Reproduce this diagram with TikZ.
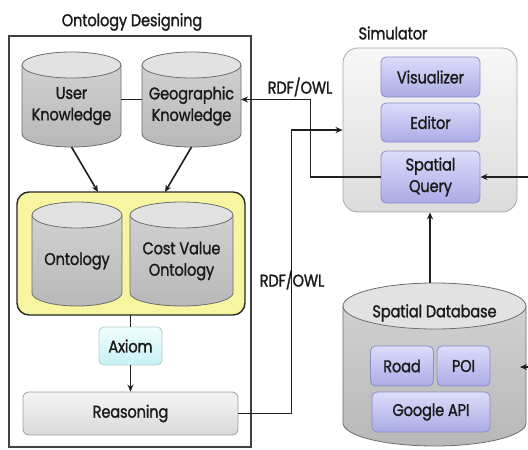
\documentclass[tikz,border=0pt]{standalone}
\usepackage{fontspec}
\setmainfont{Poppins}[FakeStretch=0.86, FakeBold=1.3, LetterSpace=-1]
\usetikzlibrary{arrows.meta}

% cylinder drawn behind a named node: x1 y1 x2 y2 ry (y grows downward)
\newcommand\drawcylinder[5]{%
  \pgfmathsetmacro\cylrx{(#3-#1)/2}%
  \pgfmathsetmacro\cylcx{(#1+#3)/2}%
  \shade[top color=cylA, bottom color=cylB]
    (#1,#2+#5) -- (#1,#4-#5)
    arc[start angle=180, end angle=360, x radius=\cylrx pt, y radius=#5pt]
    -- (#3,#2+#5)
    arc[start angle=0, end angle=180, x radius=\cylrx pt, y radius=#5pt] -- cycle;
  \draw[cylline]
    (#1,#2+#5) -- (#1,#4-#5)
    arc[start angle=180, end angle=360, x radius=\cylrx pt, y radius=#5pt]
    -- (#3,#2+#5);
  \draw[cylline, fill=cylTop] (\cylcx,#2+#5) ellipse[x radius=\cylrx pt, y radius=#5pt];
}

\definecolor{cylA}{HTML}{D4D4D4}
\definecolor{cylB}{HTML}{B8B8B8}
\definecolor{cylTop}{HTML}{E2E2E2}
\definecolor{cylEdge}{HTML}{6E6E6E}
\definecolor{ylw}{HTML}{F8F5A0}
\definecolor{purA}{HTML}{DCDCFA}
\definecolor{purB}{HTML}{ABABE6}
\definecolor{purEdge}{HTML}{8C8CC8}
\definecolor{cyA}{HTML}{F0FEFE}
\definecolor{cyB}{HTML}{C8F0F4}
\definecolor{txt}{HTML}{1A1A1A}

\begin{document}
\begin{tikzpicture}[x=1pt, y=-1pt,
  tfont/.style={font=\fontsize{17}{21.5}\selectfont, text=txt},
  lbl/.style={tfont, align=center, inner sep=0pt},
  ttl/.style={tfont, inner sep=0pt},
  spot/.style={rectangle, inner sep=0pt, outer sep=0pt},
  cylline/.style={draw=cylEdge, line width=0.8pt},
  conn/.style={draw=black!88, line width=1.6pt},
  arr/.style={conn, -{Stealth[length=7pt, width=6pt]}},
  purbox/.style={rectangle, rounded corners=5pt, draw=purEdge, line width=0.8pt,
    top color=purA, bottom color=purB, inner sep=0pt, tfont, align=center},
  greybox/.style={rectangle, rounded corners=6pt, draw=gray!75, line width=0.8pt,
    top color=gray!8, bottom color=gray!30, inner sep=0pt},
]
\useasboundingbox (0,0) rectangle (528,450);
\fill[white] (0,0) rectangle (528,450);

% ---------- Ontology Designing ----------
\node[spot, draw=black!75, line width=1.4pt, minimum width=242, minimum height=411]
  (od) at (130,241.5) {};
\node[ttl] (odt) at (132,22) {Ontology Designing};

% knowledge bases
\drawcylinder{22}{52}{121}{147}{13}
\node[spot, minimum width=99, minimum height=95] (uk) at (71.5,99.5) {};
\node[lbl] at (71.5,106) {User\\Knowledge};

\drawcylinder{142}{52}{241}{147}{13}
\node[spot, minimum width=99, minimum height=95] (gk) at (191.5,99.5) {};
\node[lbl] at (191.5,106) {Geographic\\Knowledge};

\draw[conn] (uk.east) -- (gk.west);

% ontology group
\node[spot, rounded corners=12pt, draw=black!85, line width=1.4pt, fill=ylw,
  minimum width=228, minimum height=123] (yb) at (131,253.5) {};
\drawcylinder{32}{202}{122}{306}{13}
\node[spot, minimum width=90, minimum height=104] (ont) at (77,254) {};
\node[lbl] at (77,261) {Ontology};
\drawcylinder{130}{202}{233}{306}{13}
\node[spot, minimum width=103, minimum height=104] (cvo) at (181.5,254) {};
\node[lbl] at (181.5,261) {Cost Value\\Ontology};

\draw[arr] (uk.south) -- ([xshift=-33pt]yb.north);
\draw[arr] (gk.south) -- ([xshift=34pt]yb.north);

% axiom and reasoning
\node[spot, rounded corners=5pt, draw=cyB!70!gray, line width=0.8pt,
  top color=cyA, bottom color=cyB, minimum width=63, minimum height=38,
  tfont] (ax) at (130.5,346) {Axiom};
\node[greybox, minimum width=215, minimum height=43, tfont] (rs) at (130.5,413.5) {Reasoning};

\draw[conn] (yb.south -| ax.north) -- (ax.north);
\draw[arr] (ax.south) -- (rs.north);

% ---------- Simulator ----------
\node[greybox, rounded corners=15pt, draw=gray!70, top color=gray!6, bottom color=gray!28,
  minimum width=174, minimum height=164] (sim) at (430,130) {};
\node[ttl] (simt) at (393,33) {Simulator};
\node[purbox, minimum width=99, minimum height=40] (vis) at (430.5,77) {Visualizer};
\node[purbox, minimum width=99, minimum height=39] (ed) at (430.5,122.5) {Editor};
\node[purbox, minimum width=99, minimum height=52] (sq) at (430.5,177) {Spatial\\Query};

% ---------- Spatial Database ----------
\drawcylinder{343}{283}{526}{446}{23}
\node[spot, minimum width=183, minimum height=163] (db) at (434.5,364.5) {};
\node[ttl] at (434.5,313) {Spatial Database};
\node[purbox, minimum width=63, minimum height=40] (road) at (402,366) {Road};
\node[purbox, minimum width=53, minimum height=40] (poi) at (463.5,366) {POI};
\node[purbox, minimum width=118, minimum height=40] (gapi) at (431,412) {Google API};

% ---------- connectors ----------
\draw[arr] (rs.east) -- ++(53,0) |- (sim.west);
\node[lbl] (rdf1) at (292,280) {RDF/OWL};

\draw[arr] (sq.west) -- ++(-70,0) |- (gk.east);
\node[lbl] (rdf2) at (300,87) {RDF/OWL};

\draw[arr] (db.north -| sim.south) -- (sim.south);

\coordinate (inq) at (528,177);
\draw[arr] (inq) -- (sq.east);
\coordinate (indb) at (528,367);
\draw[arr] (indb) -- (520,367);
\end{tikzpicture}
\end{document}
